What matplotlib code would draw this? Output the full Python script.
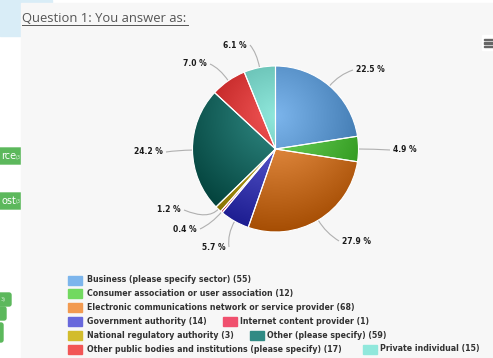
import numpy as np
import matplotlib
matplotlib.use("Agg")
import matplotlib.pyplot as plt
from matplotlib.patches import Rectangle, FancyBboxPatch
from matplotlib.path import Path
from matplotlib.patches import PathPatch
from matplotlib.colors import to_rgb

# ------------------- Data -------------------
categories = [
    "Business (please specify sector)",
    "Consumer association or user association",
    "Electronic communications network or service provider",
    "Government authority",
    "Internet content provider",
    "National regulatory authority",
    "Other (please specify)",
    "Other public bodies and institutions (please specify)",
    "Private individual",
]
counts = [55, 12, 68, 14, 1, 3, 59, 17, 15]
colors = ["#7cb5ec", "#72d960", "#f29a50", "#6868dc", "#f0506e",
          "#d2bc2c", "#308a84", "#f25656", "#90e8dc"]

TITLE = "Question 1: You answer as:"

# ------------------- Layout (pixels, y from top) -------------------
W, H = 493, 358
CX, CY, R = 275.5, 149, 83

# label anchor: (x, y, ha)
label_pos = [(356, 70, "left"), (393, 150, "left"), (342, 241, "left"),
             (226, 247, "right"), (197, 229, "right"), (181, 210, "right"),
             (163, 152, "right"), (207, 64, "right"), (247, 45, "right")]

# legend: (square x, text x, row y)
legend_pos = [(68, 87, 280), (68, 87, 293.5), (68, 87, 307), (68, 87, 321),
              (223, 240, 321), (68, 87, 335), (250, 267, 335),
              (68, 87, 349), (363, 380, 349)]


def py(y):
    return H - y


fig = plt.figure(figsize=(W / 100, H / 100), dpi=100)
ax = fig.add_axes([0, 0, 1, 1])
ax.axis("off")

# page background pieces
ax.add_patch(Rectangle((0, 0), W, H, color="white", zorder=0))
ax.add_patch(Rectangle((0, py(36)), 21, 36, color="#d9edf7", zorder=0.1))
ax.add_patch(Rectangle((0, py(3)), 52, 3, color="#d9edf7", zorder=0.1))
for (y0, y1, x1, txt) in [(148, 164, 40, "rce"), (193, 209, 40, "ost"),
                          (293, 306, 11, ""), (307, 320, 6, ""),
                          (323, 342, 3, "")]:
    ax.add_patch(FancyBboxPatch((-20, py(y1)), x1 + 20, y1 - y0,
                                boxstyle="round,pad=0,rounding_size=2",
                                color="#5cb85c", zorder=0.2))
    if txt:
        ax.text(1, py((y0 + y1) / 2), txt, color="white", fontsize=7,
                va="center", ha="left", zorder=0.3)
        ax.text(16, py((y0 + y1) / 2) - 1, "(3", color="#d8f0d8", fontsize=3.5,
                va="center", ha="left", zorder=0.3)
ax.text(1, py(299.5), "3)", color="#d8f0d8", fontsize=3.5, va="center",
        ha="left", zorder=0.3)
ax.add_patch(Rectangle((21, 0), W - 21, py(3), color="#f7f7f7", zorder=0.5))

# title
ax.text(22, py(22), TITLE, fontsize=9.4, family="Open Sans", color="#555555",
        va="baseline", ha="left", zorder=5)
ax.plot([22, 188], [py(25), py(25)], color="#555555", lw=0.7, zorder=5)

# menu icon
ax.add_patch(Rectangle((482, py(50)), 11, 15, color="#ffffff", zorder=1))
for yy in (39.5, 43, 46.5):
    ax.add_patch(Rectangle((484, py(yy) - 0.8), 9, 1.6, color="#666666", zorder=2))

# ------------------- Pie -------------------
wedges, _ = ax.pie(counts, colors=colors, startangle=90, counterclock=False,
                   center=(CX, py(CY)), radius=R,
                   wedgeprops=dict(edgecolor="white", linewidth=0.8))

# radial gradient like the highcharts theme
n = 300
xs = np.linspace(CX - R, CX + R, n)
ys = np.linspace(py(CY) - R, py(CY) + R, n)
XX, YY = np.meshgrid(xs, ys)
gx, gy = CX, py(CY) + 0.4 * R
t = np.clip(np.hypot(XX - gx, YY - gy) / (1.4 * R), 0, 1)[..., None]
for w, c in zip(wedges, colors):
    base = np.array(to_rgb(c))
    dark = np.clip(base - 0.3, 0, 1)
    img = base + (dark - base) * t
    w.set_facecolor("none")
    w.set_zorder(3)
    im = ax.imshow(img, extent=(CX - R, CX + R, py(CY) - R, py(CY) + R),
                   origin="lower", zorder=2, interpolation="bilinear")
    im.set_clip_path(w)

# labels + connectors
total = sum(counts)
angle = 90.0
for v, (lx, ly, ha) in zip(counts, label_pos):
    span = v / total * 360
    mid = np.deg2rad(angle - span / 2)
    angle -= span
    ex, ey = CX + R * np.cos(mid), py(CY) + R * np.sin(mid)
    cx_, cy_ = CX + (R + 15) * np.cos(mid), py(CY) + (R + 15) * np.sin(mid)
    endx = lx - 3 if ha == "left" else lx + 3
    path = Path([(ex, ey), (cx_, cy_), (endx, py(ly))],
                [Path.MOVETO, Path.CURVE3, Path.CURVE3])
    ax.add_patch(PathPatch(path, fc="none", ec="#b0b0b0", lw=0.8, zorder=2.5))
    ax.text(lx, py(ly), "{:.1f} %".format(v / total * 100), fontsize=5.5,
            fontweight="bold", color="#1a1a1a", ha=ha, va="center", zorder=5)

# ------------------- Legend -------------------
for name, v, c, (sx, tx, ry) in zip(categories, counts, colors, legend_pos):
    ax.add_patch(Rectangle((sx, py(ry) - 4.5), 14, 9, color=c, zorder=4))
    ax.text(tx, py(ry), "{} ({})".format(name, v), fontsize=5.7,
            fontweight="bold", color="#333333", ha="left", va="center", zorder=5)

ax.set_xlim(0, W)
ax.set_ylim(0, H)
ax.set_aspect("auto")
fig.savefig("out.png", dpi=100)
